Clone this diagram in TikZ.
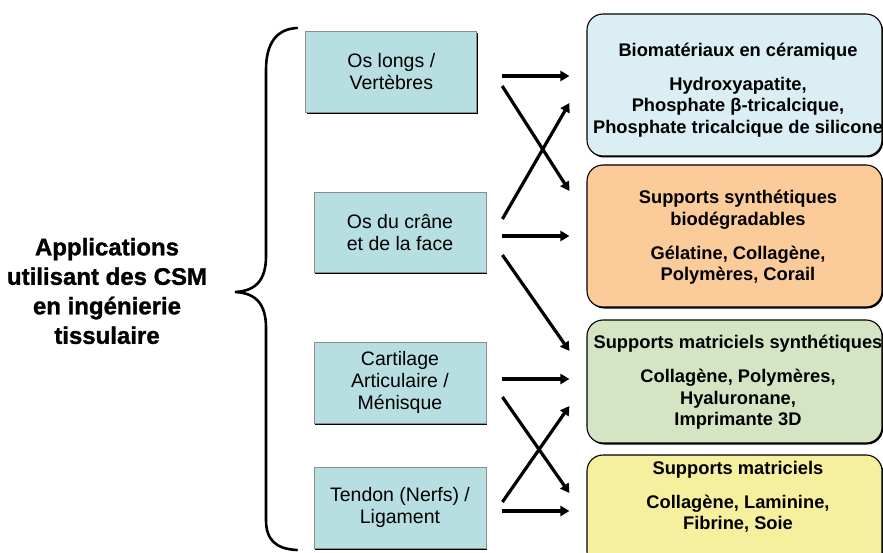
\documentclass[tikz,border=0pt]{standalone}
\usepackage{fontspec}
\setmainfont{Liberation Sans}
\newfontfamily\heavyfont[BoldFeatures={FakeBold=1.2}]{Liberation Sans}
\usetikzlibrary{arrows.meta,calc,shadows}
\definecolor{tealbox}{RGB}{183,222,224}
\definecolor{cblue}{RGB}{218,238,243}
\definecolor{corange}{RGB}{251,203,154}
\definecolor{cgreen}{RGB}{213,229,196}
\definecolor{cyellow}{RGB}{246,240,158}
\begin{document}
\begin{tikzpicture}[x=1pt,y=-1pt,
  lbox/.style={draw=black!45, line width=0.8pt, fill=tealbox, minimum width=171pt,
    minimum height=81pt, inner sep=0pt, align=center,
    font=\fontsize{19.5}{22}\selectfont,
    drop shadow={shadow xshift=1.3pt, shadow yshift=-1.6pt, fill=black, opacity=1}},
  rbox/.style={draw=black, line width=1.1pt, rounded corners=16pt, minimum width=295pt,
    inner sep=0pt,
    drop shadow={shadow xshift=1.2pt, shadow yshift=-1.5pt, fill=black, opacity=1}},
  rtext/.style={align=center, inner sep=0pt, font=\fontsize{18.3}{21.5}\selectfont\bfseries},
  title/.style={align=center, inner sep=0pt, font=\heavyfont\fontsize{24}{29.5}\selectfont\bfseries},
  arr/.style={line width=3.2pt, -{Triangle[length=9pt,width=10pt]}},
  brace/.style={line width=2.6pt, line cap=round}]
\useasboundingbox (0,0) rectangle (883,553);
\clip (0,0) rectangle (883,553);

% left title
\node[title] (ttl) at (107,291) {Applications\\utilisant des CSM\\en ingénierie\\tissulaire};

% brace
\draw[brace] (297,28) .. controls (276,29) and (266,44) .. (266,70) -- (266,256)
  .. controls (266,280) and (256,291) .. (235,292)
  .. controls (256,293) and (266,304) .. (266,328) -- (266,520)
  .. controls (266,540) and (276,549) .. (297,550);

% left boxes
\node[lbox] (b1) at (391.3,71.5) {Os longs /\\Vertèbres};
\node[lbox, minimum width=172pt, minimum height=80pt] (b2) at (400,232) {Os du crâne\\et de la face};
\node[lbox, minimum width=172pt] (b3) at (400,382.5) {Cartilage\\Articulaire /\\Ménisque};
\node[lbox, minimum width=172pt] (b4) at (400,507.5) {Tendon (Nerfs) /\\Ligament};

% right boxes
\node[rbox, fill=cblue, minimum height=142pt] (A) at (734.5,85) {};
\node[rbox, fill=corange, minimum height=142pt] (B) at (734.5,236) {};
\node[rbox, fill=cgreen, minimum height=123pt] (C) at (734.5,381.5) {};
\node[rbox, fill=cyellow, minimum height=113pt] (D) at (734.5,511.5) {};

\node[rtext] (tA) at (738,90) {Biomatériaux en céramique\\[12.5pt]Hydroxyapatite,\\Phosphate β-tricalcique,\\Phosphate tricalcique de silicone};
\node[rtext] (tB) at (738,237.5) {Supports synthétiques\\biodégradables\\[12.5pt]Gélatine, Collagène,\\Polymères, Corail};
\node[rtext] (tC) at (738,382.5) {Supports matriciels synthétiques\\[12.5pt]Collagène, Polymères,\\Hyaluronane,\\Imprimante 3D};
\node[rtext] (tD) at (738,497) {Supports matriciels\\[12.5pt]Collagène, Laminine,\\Fibrine, Soie};

% arrow end points
\coordinate (s1) at ($(b1.east)+(25,4.5)$);
\coordinate (s2) at ($(b1.east)+(25,14.5)$);
\coordinate (s3) at ($(b2.east)+(16,-13)$);
\coordinate (s4) at ($(b2.east)+(16,4)$);
\coordinate (s5) at ($(b2.east)+(16,23)$);
\coordinate (s6) at ($(b3.east)+(16,-3.5)$);
\coordinate (s7) at ($(b3.east)+(16,14.5)$);
\coordinate (s8) at ($(b4.east)+(16,-5.5)$);
\coordinate (s9) at ($(b4.east)+(16,3.5)$);
\coordinate (e1) at ($(A.west)+(-17,-9)$);
\coordinate (e3) at ($(A.west)+(-17,18)$);
\coordinate (e2) at ($(B.west)+(-17,-45)$);
\coordinate (e4) at ($(B.west)+(-17,0)$);
\coordinate (e5) at ($(C.west)+(-17,-30.5)$);
\coordinate (e6) at ($(C.west)+(-17,-2.5)$);
\coordinate (e8) at ($(C.west)+(-17,24.5)$);
\coordinate (e7) at ($(D.west)+(-17,-18.5)$);
\coordinate (e9) at ($(D.west)+(-17,-0.5)$);

\draw[arr] (s1) -- (e1);
\draw[arr] (s2) -- (e2);
\draw[arr] (s3) -- (e3);
\draw[arr] (s4) -- (e4);
\draw[arr] (s5) -- (e5);
\draw[arr] (s6) -- (e6);
\draw[arr] (s7) -- (e7);
\draw[arr] (s8) -- (e8);
\draw[arr] (s9) -- (e9);
\end{tikzpicture}
\end{document}
